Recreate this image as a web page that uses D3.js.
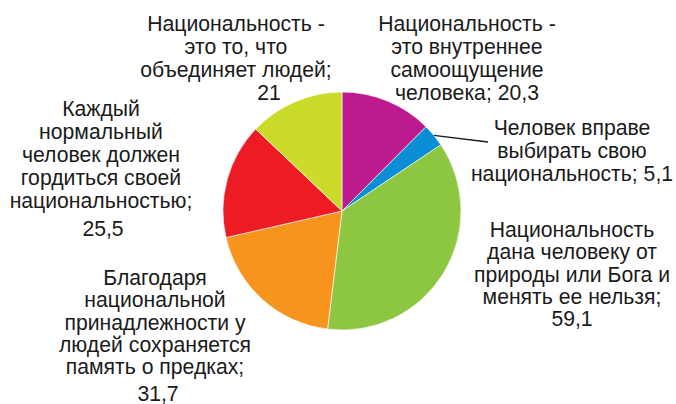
<!DOCTYPE html>
<html>
<head>
<meta charset="utf-8">
<script src="https://cdn.jsdelivr.net/npm/d3@7"></script>
<style>
  html, body { margin: 0; padding: 0; background: #ffffff; }
  svg { display: block; }
  text { font-family: "Liberation Sans", Arial, sans-serif; fill: #1a1a1a; }
</style>
</head>
<body>
<svg id="chart" width="676" height="404"></svg>
<script>
// ---- data ----
const categories = [
  "Национальность - это внутреннее самоощущение человека",
  "Человек вправе выбирать свою национальность",
  "Национальность дана человеку от природы или Бога и менять ее нельзя",
  "Благодаря национальной принадлежности у людей сохраняется память о предках",
  "Каждый нормальный человек должен гордиться своей национальностью",
  "Национальность - это то, что объединяет людей"
];
const values = [20.3, 5.1, 59.1, 31.7, 25.5, 21];
const labelLines = [
  ["Национальность -", "это внутреннее", "самоощущение", "человека;"],
  ["Человек вправе", "выбирать свою", "национальность;"],
  ["Национальность", "дана человеку от", "природы или Бога и", "менять ее нельзя;"],
  ["Благодаря", "национальной", "принадлежности у", "людей сохраняется", "память о предках;"],
  ["Каждый", "нормальный", "человек должен", "гордиться своей", "национальностью;"],
  ["Национальность -", "это то, что", "объединяет людей;"]
];
const colors = ["#BD1A8D", "#0A8FD6", "#8DC641", "#F7941E", "#ED1C24", "#CBDB2A"];

// ---- layout (positions/styles) ----
const W = 676, H = 404;
const cx = 342, cy = 211, R = 119;
const fontSize = 21.2;
const labelLayout = [
  { x: 467, y: 31,  lh: 23,   sameLine: true },
  { x: 572, y: 135, lh: 23,   sameLine: true, leaderEnd: [488, 142] },
  { x: 572, y: 237, lh: 22.3, sameLine: false, gap: 22.3, dx: 0 },
  { x: 155, y: 285, lh: 22.3, sameLine: false, gap: 27,   dx: 3 },
  { x: 101, y: 116, lh: 23,   sameLine: false, gap: 28,   dx: 2 },
  { x: 236, y: 31,  lh: 23,   sameLine: false, gap: 23,   dx: 33 }
];

const fmt = v => String(v).replace(".", ",");

const svg = d3.select("#chart");
const g = svg.append("g").attr("transform", `translate(${cx},${cy})`);

const pie = d3.pie().sort(null).value(d => d)
  .startAngle(0).endAngle(2 * Math.PI);
const arcs = pie(values);
const arc = d3.arc().innerRadius(0).outerRadius(R);

g.selectAll("path.slice")
  .data(arcs)
  .join("path")
  .attr("class", "slice")
  .attr("d", arc)
  .attr("fill", (d, i) => colors[i])
  .attr("stroke", "#ffffff")
  .attr("stroke-width", 0.6);

// labels
arcs.forEach((a, i) => {
  const L = labelLayout[i];
  const lines = labelLines[i].slice();
  const t = svg.append("text")
    .attr("text-anchor", "middle")
    .attr("font-size", fontSize);
  if (L.sameLine) {
    lines[lines.length - 1] = lines[lines.length - 1] + " " + fmt(values[i]);
  }
  lines.forEach((ln, k) => {
    t.append("tspan").attr("x", L.x).attr("y", L.y + k * L.lh).text(ln);
  });
  if (!L.sameLine) {
    t.append("tspan")
      .attr("x", L.x + L.dx)
      .attr("y", L.y + (lines.length - 1) * L.lh + L.gap)
      .text(fmt(values[i]));
  }
  if (L.leaderEnd) {
    const mid = (a.startAngle + a.endAngle) / 2;
    const p = [Math.sin(mid) * R + cx, -Math.cos(mid) * R + cy];
    svg.append("line")
      .attr("x1", p[0]).attr("y1", p[1])
      .attr("x2", L.leaderEnd[0]).attr("y2", L.leaderEnd[1])
      .attr("stroke", "#1a1a1a").attr("stroke-width", 1.3);
  }
});
</script>
</body>
</html>
